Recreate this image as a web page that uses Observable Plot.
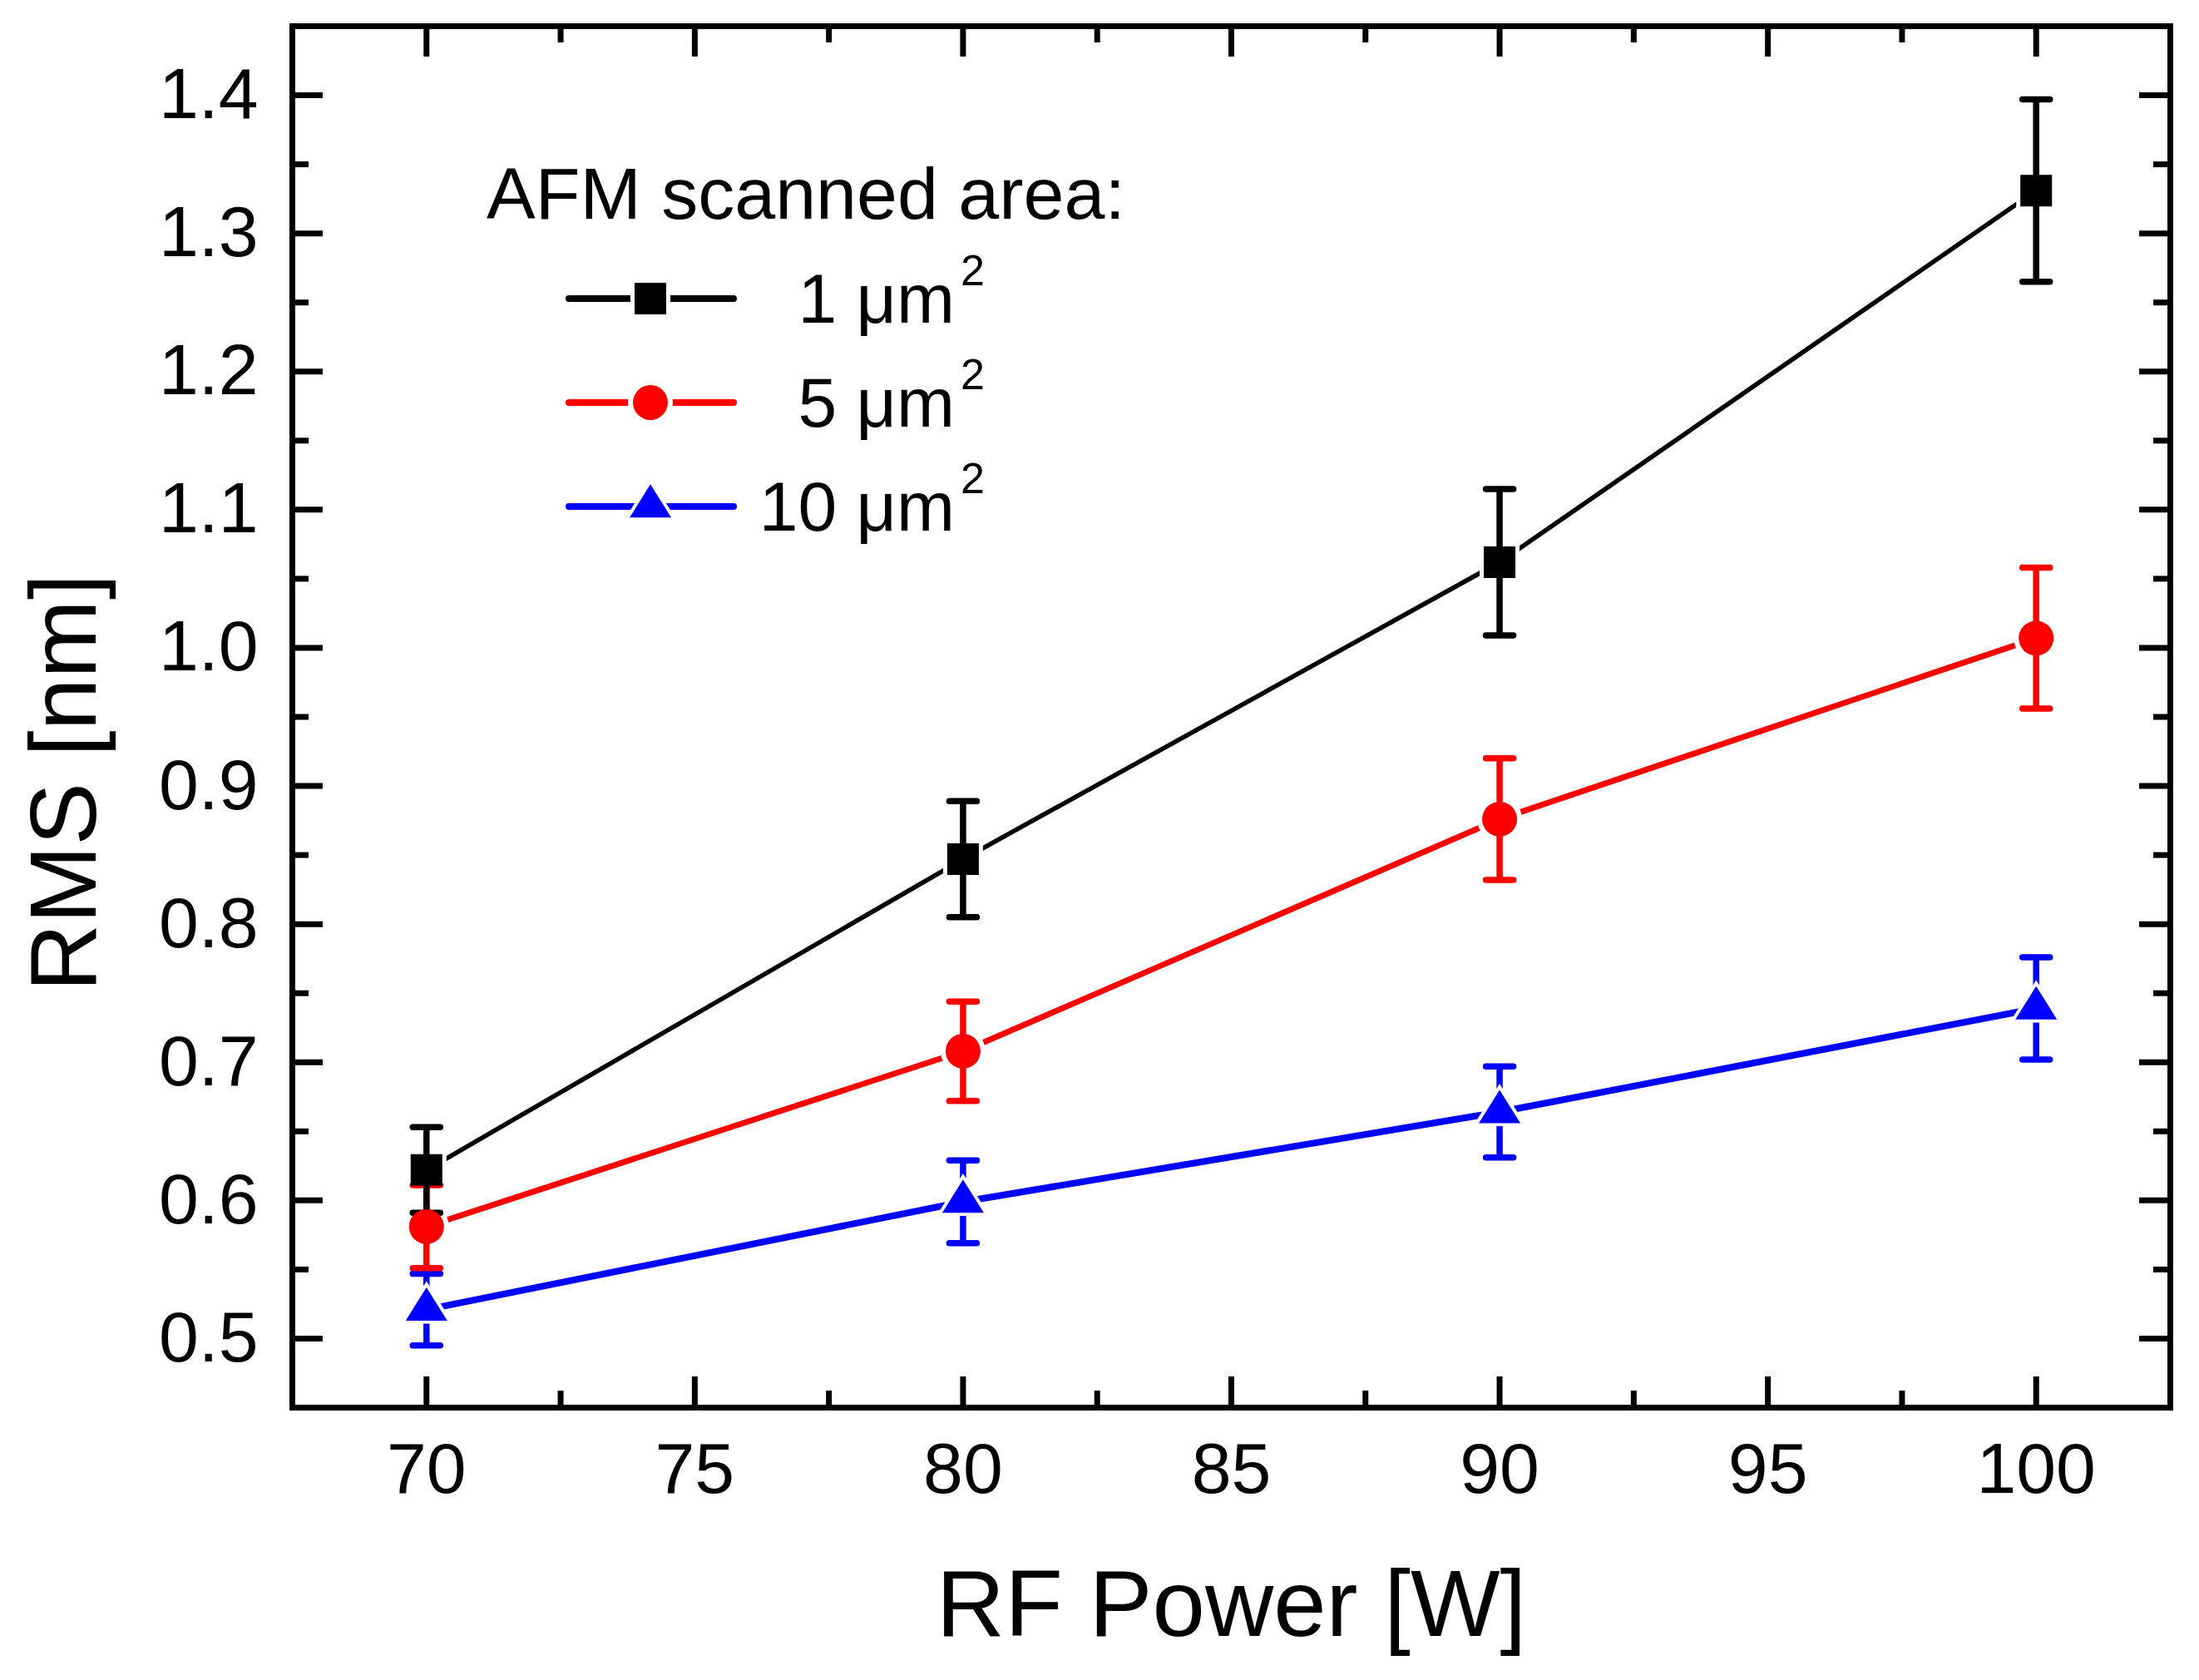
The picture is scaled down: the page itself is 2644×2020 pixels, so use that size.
<!DOCTYPE html>
<html>
<head>
<meta charset="utf-8">
<script src="https://cdn.jsdelivr.net/npm/d3@7"></script>
<script src="https://cdn.jsdelivr.net/npm/@observablehq/plot@0.6"></script>
<style>
  html, body { margin: 0; padding: 0; background: #ffffff; }
  svg { display: block; }
</style>
</head>
<body>
<div id="chart"></div>
<script>
// ---------- data ----------
const power = [70, 80, 90, 100];
const seriesLabels = ["1 μm²", "5 μm²", "10 μm²"];
const rms1  = [0.622, 0.847, 1.062, 1.331];
const err1  = [0.031, 0.042, 0.053, 0.066];
const rms5  = [0.581, 0.708, 0.876, 1.007];
const err5  = [0.030, 0.036, 0.044, 0.051];
const rms10 = [0.521, 0.599, 0.664, 0.739];
const err10 = [0.026, 0.030, 0.033, 0.037];
const xTicks = [70, 75, 80, 85, 90, 95, 100];
const xMinorTicks = [72.5, 77.5, 82.5, 87.5, 92.5, 97.5];
const yTicks = [0.5, 0.6, 0.7, 0.8, 0.9, 1.0, 1.1, 1.2, 1.3, 1.4];
const yMinorTicks = [0.55, 0.65, 0.75, 0.85, 0.95, 1.05, 1.15, 1.25, 1.35];
const xLabel = "RF Power [W]";
const yLabel = "RMS [nm]";
const legendTitle = "AFM scanned area:";

// ---------- styles ----------
const colors = ["#000000", "#ff0000", "#0000ff"];
const lineWidths = [5.5, 7, 8];
const W = 2644, H = 2020;
const mL = 351, mR = 35, mT = 31, mB = 328;
const FW = W - mL - mR, FH = H - mT - mB;
const AX = 7;           // axis stroke width
const TMAJ = 37, TMIN = 20;
const EBW = 7.5;        // error bar stroke width

// ---------- symbols ----------
const squareSym = side => ({draw(ctx) { const h = side / 2; ctx.rect(-h, -h, side, side); }});
const circleSym = r => ({draw(ctx) { ctx.moveTo(r, 0); ctx.arc(0, 0, r, 0, 2 * Math.PI); }});
const triSym = (w, h) => ({draw(ctx) {
  ctx.moveTo(0, -2 * h / 3); ctx.lineTo(w / 2, h / 3); ctx.lineTo(-w / 2, h / 3); ctx.closePath();
}});
const capSym = w => ({draw(ctx) { ctx.moveTo(-w / 2, 0); ctx.lineTo(w / 2, 0); }});

const markers = [squareSym(38), circleSym(21), triSym(50, 40)];
const halos   = [squareSym(48), circleSym(27), triSym(64, 51)];

// ---------- table ----------
const rmsList = [rms1, rms5, rms10];
const errList = [err1, err5, err10];
const rows = [];
rmsList.forEach((vals, s) => vals.forEach((v, i) => rows.push({
  s, series: seriesLabels[s], x: power[i], y: v, err: errList[s][i]
})));
const bySeries = s => rows.filter(d => d.s === s);

function errorBars(s) {
  const data = bySeries(s);
  return [
    Plot.ruleX(data, {x: "x", y1: d => d.y - d.err, y2: d => d.y + d.err, stroke: colors[s], strokeWidth: EBW}),
    Plot.dot(data, {x: "x", y: d => d.y + d.err, symbol: capSym(33), stroke: colors[s], strokeWidth: EBW, strokeLinecap: "round", fill: "none"}),
    Plot.dot(data, {x: "x", y: d => d.y - d.err, symbol: capSym(33), stroke: colors[s], strokeWidth: EBW, strokeLinecap: "round", fill: "none"})
  ];
}

function legendMark(index, scales, values, dimensions) {
  const g = d3.create("svg:g");
  const ml = dimensions.marginLeft, mt = dimensions.marginTop;
  g.append("text").attr("x", ml + 234).attr("y", mt + 232)
    .attr("text-anchor", "start")
    .attr("font-size", 88).attr("fill", "black").text(legendTitle);
  seriesLabels.forEach((lab, i) => {
    const cy = mt + 328 + i * 125;
    g.append("line").attr("x1", ml + 333).attr("x2", ml + 531)
      .attr("y1", cy).attr("y2", cy)
      .attr("stroke", colors[i]).attr("stroke-width", 8).attr("stroke-linecap", "round");
    g.append("path").attr("transform", `translate(${ml + 431},${cy})`)
      .attr("d", d3.symbol(halos[i])()).attr("fill", "white");
    g.append("path").attr("transform", `translate(${ml + 431},${cy})`)
      .attr("d", d3.symbol(markers[i])()).attr("fill", colors[i]);
    const main = lab.replace("²", "");
    g.append("text").attr("x", ml + 797).attr("y", cy + 29)
      .attr("text-anchor", "end").attr("font-size", 84).attr("fill", "black").text(main);
    g.append("text").attr("x", ml + 804).attr("y", cy + 29 - 45)
      .attr("text-anchor", "start").attr("font-size", 52).attr("fill", "black").text("2");
  });
  return g.node();
}

const chart = Plot.plot({
  width: W, height: H,
  marginLeft: mL, marginRight: mR, marginTop: mT, marginBottom: mB,
  style: {fontFamily: "'Liberation Sans', Arial, sans-serif", background: "white", color: "black"},
  x: {domain: [67.5, 102.5], label: null},
  y: {domain: [0.45, 1.45], label: null},
  marks: [
    // data lines
    ...[0, 1, 2].map(s => Plot.line(bySeries(s), {x: "x", y: "y", stroke: colors[s], strokeWidth: lineWidths[s]})),
    // blue error bars (gapped by halos)
    ...errorBars(2),
    // halos (gaps between lines and markers)
    ...[0, 1, 2].map(s => Plot.dot(bySeries(s), {x: "x", y: "y", symbol: halos[s], fill: "white", stroke: "none"})),
    ...errorBars(1),
    ...errorBars(0),
    // markers
    ...[2, 1, 0].map(s => Plot.dot(bySeries(s), {x: "x", y: "y", symbol: markers[s], fill: colors[s], stroke: "none"})),
    // frame and inward ticks on all sides
    Plot.tickX(xTicks, {x: d => d, insetTop: FH - TMAJ, strokeWidth: AX}),
    Plot.tickX(xTicks, {x: d => d, insetBottom: FH - TMAJ, strokeWidth: AX}),
    Plot.tickX(xMinorTicks, {x: d => d, insetTop: FH - TMIN, strokeWidth: AX}),
    Plot.tickX(xMinorTicks, {x: d => d, insetBottom: FH - TMIN, strokeWidth: AX}),
    Plot.tickY(yTicks, {y: d => d, insetRight: FW - TMAJ, strokeWidth: AX}),
    Plot.tickY(yTicks, {y: d => d, insetLeft: FW - TMAJ, strokeWidth: AX}),
    Plot.tickY(yMinorTicks, {y: d => d, insetRight: FW - TMIN, strokeWidth: AX}),
    Plot.tickY(yMinorTicks, {y: d => d, insetLeft: FW - TMIN, strokeWidth: AX}),
    Plot.frame({stroke: "black", strokeWidth: AX}),
    // tick labels
    Plot.axisX({ticks: xTicks, tickSize: 0, tickPadding: 41, fontSize: 86, label: null, tickFormat: d3.format("d")}),
    Plot.axisY({ticks: yTicks, tickSize: 0, tickPadding: 41, fontSize: 86, label: null, tickFormat: d3.format(".1f")}),
    // axis titles
    Plot.text([xLabel], {text: d => d, frameAnchor: "bottom", textAnchor: "middle", lineAnchor: "middle",
      dy: 238, fontSize: 114, fill: "black"}),
    Plot.text([yLabel], {text: d => d, frameAnchor: "left", textAnchor: "middle", lineAnchor: "middle",
      dx: -273, dy: 79, rotate: -90, fontSize: 113, fill: "black"}),
    // legend
    legendMark
  ]
});
document.getElementById("chart").appendChild(chart);
</script>
</body>
</html>
